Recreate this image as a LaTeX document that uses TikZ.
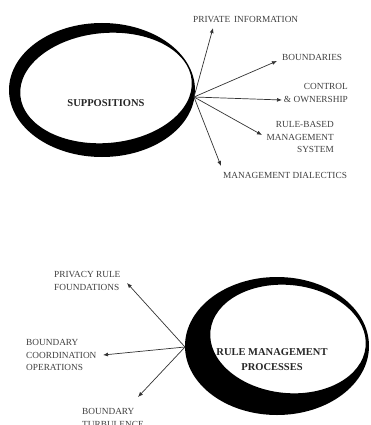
\documentclass[tikz,border=0pt]{standalone}
\usepackage{fontspec}
\setmainfont{Liberation Serif}
\usetikzlibrary{arrows.meta, positioning}

\begin{document}
\begin{tikzpicture}[
    x=1pt, y=-1pt,
    lbl/.style={font=\fontsize{9.3}{12.8}\selectfont, text=black!75, inner sep=0pt, align=left},
    lblr/.style={lbl, align=right},
    title/.style={font=\fontsize{10.5}{15}\selectfont\bfseries, text=black!85, inner sep=0pt, align=center},
    arrow/.style={-{Latex[length=5pt, width=4pt]}, line width=0.7pt, black!80},
    ring/.style={fill=black, even odd rule},
]
\useasboundingbox (0,0) rectangle (371,425);
\clip (0,0) rectangle (371,425);

% Top ellipse
\fill[ring] (102,90) ellipse [x radius=93, y radius=67]
            (106,88) ellipse [x radius=86, y radius=55, rotate=5];
\node[title] (supp) at (106,103) {SUPPOSITIONS};
\coordinate (supphub) at (194,97);

% Top labels
\node[lbl, anchor=west] (private) at (193,19) {PRIVATE\, INFORMATION};
\node[lbl, anchor=west] (bound) at (282,57) {BOUNDARIES};
\node[lblr, anchor=east] (control) at (348,93) {CONTROL\\\& OWNERSHIP};
\node[lblr, anchor=east] (rulebased) at (334,137) {RULE-BASED\\MANAGEMENT\\SYSTEM};
\node[lbl, anchor=west] (dialect) at (223,175) {MANAGEMENT DIALECTICS};

\coordinate (tprivate) at (213,28);
\coordinate (tbound) at (277,61);
\coordinate (tcontrol) at (282,100);
\coordinate (trule) at (262,135);
\coordinate (tdialect) at (221,166);

\foreach \t in {tprivate, tbound, tcontrol, trule, tdialect}
    \draw[arrow] (supphub) -- (\t);

% Bottom ellipse
\fill[ring] (277,346) ellipse [x radius=92, y radius=69]
            (288,339) ellipse [x radius=78, y radius=54, rotate=-6];
\node[title] (rmp) at (272,360) {RULE MANAGEMENT\\PROCESSES};
\coordinate (rmphub) at (185,347);

% Bottom labels
\node[lbl, anchor=west] (privacy) at (54,281) {PRIVACY RULE\\FOUNDATIONS};
\node[lbl, anchor=west] (coord) at (26,355) {BOUNDARY\\COORDINATION\\OPERATIONS};
\node[lbl, anchor=north west] (turb) at (82,408) {BOUNDARY\\TURBULENCE};

\coordinate (tprivacy) at (127,283);
\coordinate (tcoord) at (103,355);
\coordinate (tturb) at (138,397);

\foreach \t in {tprivacy, tcoord, tturb}
    \draw[arrow] (rmphub) -- (\t);

\end{tikzpicture}
\end{document}
